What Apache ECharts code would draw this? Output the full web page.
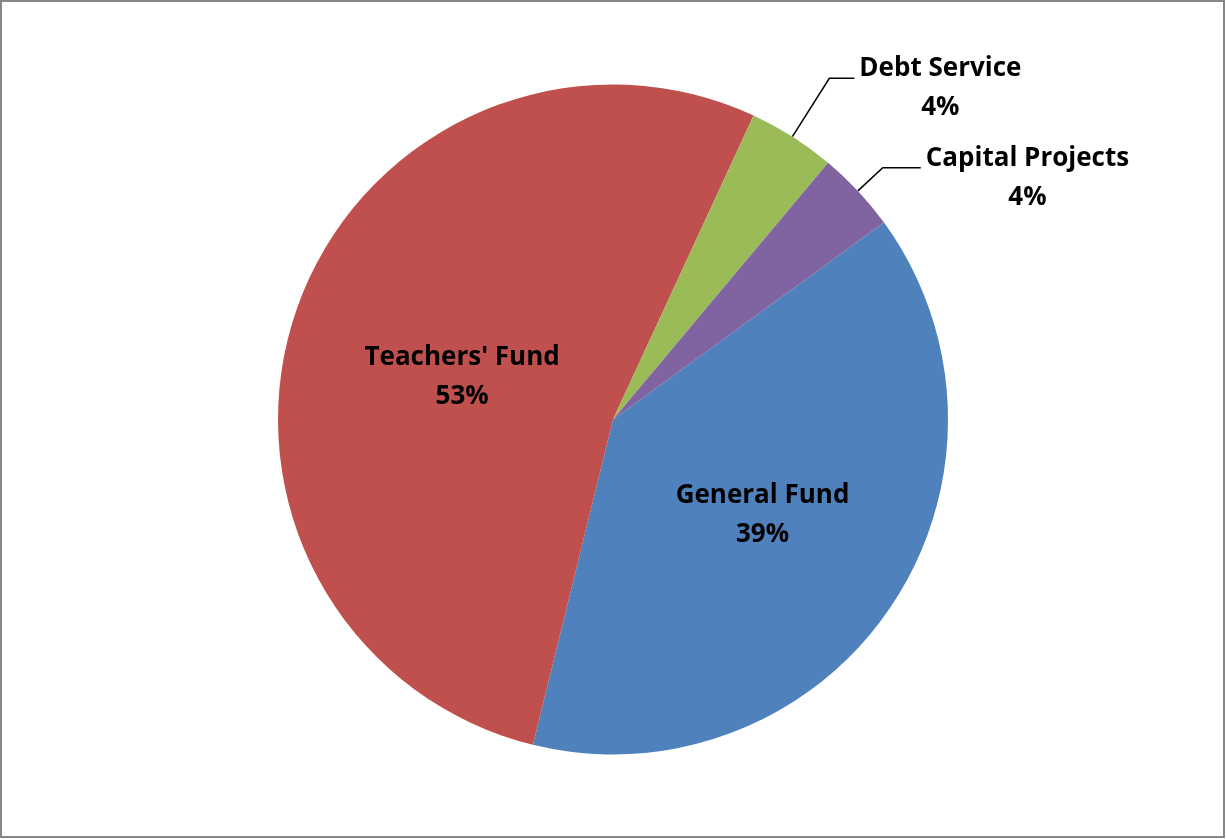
<!DOCTYPE html>
<html>
<head>
<meta charset="utf-8">
<title>Fund Distribution</title>
<script src="https://cdn.jsdelivr.net/npm/echarts@6/dist/echarts.min.js"></script>
<style>
  html, body { margin: 0; padding: 0; background: #ffffff; }
  #chart { width: 1226px; height: 839px; }
</style>
</head>
<body>
<div id="chart"></div>
<script>
// Share of each fund (percent)
const fundNames = ['General Fund', "Teachers' Fund", 'Debt Service', 'Capital Projects'];
const fundShares = [38.8, 53.0, 4.2, 3.9];
const fundColors = ['#4F81BD', '#C0504D', '#9BBB59', '#8064A2'];

// Label placement: large slices carry their label inside, thin ones use a leader line
const labelPlacement = [
  { position: 'inside', dx: 8, dy: 0 },
  { position: 'inside', dx: 10, dy: 14 },
  { position: 'outside', length: 69, length2: 25 },
  { position: 'outside', length: 34, length2: 38 }
];

const labelText = {
  fontFamily: '"Open Sans"',
  fontWeight: 'bold',
  fontSize: 26,
  lineHeight: 39,
  color: '#000000',
  align: 'center'
};

const pieData = fundNames.map((name, i) => {
  const place = labelPlacement[i];
  const item = {
    name: name,
    value: fundShares[i],
    itemStyle: { color: fundColors[i] }
  };
  if (place.position === 'outside') {
    item.label = { position: 'outside', padding: [20, 0, 0, 0] };
    item.labelLine = {
      show: true,
      length: place.length,
      length2: place.length2,
      lineStyle: { color: '#000000', width: 1.5 }
    };
  } else {
    item.label = { position: 'inside' };
    item.labelLine = { show: false };
  }
  return item;
});

const chart = echarts.init(document.getElementById('chart'), null, { renderer: 'canvas' });

chart.setOption({
  animation: false,
  backgroundColor: '#ffffff',
  graphic: [{
    type: 'rect',
    shape: { x: 1, y: 1, width: 1223, height: 836 },
    style: { fill: 'none', stroke: '#878787', lineWidth: 2 },
    silent: true
  }],
  series: [{
    type: 'pie',
    center: ['50%', '50%'],
    radius: 335,
    startAngle: 36,
    clockwise: true,
    avoidLabelOverlap: false,
    emphasis: { disabled: true },
    itemStyle: { borderWidth: 0 },
    label: {
      show: true,
      fontFamily: labelText.fontFamily,
      fontWeight: labelText.fontWeight,
      fontSize: labelText.fontSize,
      color: labelText.color,
      distanceToLabelLine: 5,
      formatter: function (p) {
        return '{n|' + p.name + '}\n{n|' + Math.round(p.percent) + '%}';
      },
      rich: { n: labelText }
    },
    labelLayout: function (params) {
      const place = labelPlacement[params.dataIndex];
      if (place && place.position === 'inside') {
        return { dx: place.dx, dy: place.dy };
      }
      return {};
    },
    data: pieData
  }]
});
</script>
</body>
</html>
